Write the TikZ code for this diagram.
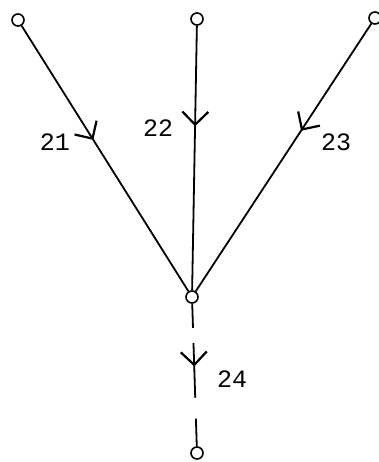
\documentclass[tikz,border=0pt]{standalone}
\usepackage{fontspec}
\newfontfamily\typewriter{Liberation Mono}
\usetikzlibrary{arrows.meta,decorations.markings}
\tikzset{
  vertex/.style={draw,circle,fill=white,inner sep=0pt,minimum size=12pt,line width=1.6pt},
  edge/.style={line width=1.8pt},
  flow/.style={postaction={decorate},decoration={markings,
    mark=at position #1 with {\arrow[solid]{Straight Barb[length=13pt,width=26pt,line width=2.2pt]}}}},
  lbl/.style={font=\typewriter\fontsize{25}{25}\selectfont}
}
\begin{document}
\begin{tikzpicture}[x=1pt,y=-1pt]
            \useasboundingbox (0,0) rectangle (378,462);
            % vertices
            \node[vertex] (a) at (18,20) {}; \node[vertex] (b) at (197,19) {}; \node[vertex] (c) at (375,18) {};
            \node[vertex] (m) at (192,297) {};
            \node[vertex] (z) at (197,453) {};
            % branches into the middle vertex
            \draw[edge,flow=0.43] (a) -- (m); \draw[edge,flow=0.38] (b) -- (m); \draw[edge,flow=0.40] (c) -- (m);
            \draw[edge,flow=0.44,dash pattern=on 24pt off 15pt on 55pt off 21pt on 40pt] (m) -- (z);
            % labels
            \node[lbl] (l21) at (55,142) {21}; \node[lbl] (l22) at (158,128) {22}; \node[lbl] (l23) at (336,142) {23};
            \node[lbl] (l24) at (232,379) {24};
        \end{tikzpicture}
\end{document}
